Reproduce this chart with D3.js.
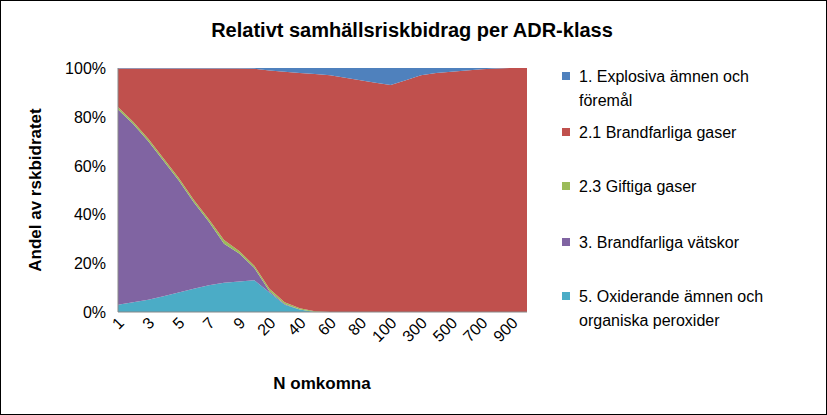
<!DOCTYPE html>
<html><head><meta charset="utf-8">
<script src="https://cdn.jsdelivr.net/npm/d3@7"></script>
<style>body{margin:0;background:#fff}svg{font-family:"Liberation Sans",Arial,sans-serif}</style>
</head><body><svg id="c" width="827" height="415"></svg>
<script>
const categories = [1,2,3,4,5,6,7,8,9,10,20,30,40,50,60,70,80,90,100,200,300,400,500,600,700,800,900,1000];
const s5 = [3,4,5,6.5,8,9.5,11,12,12.5,13,8,3,1,0,0,0,0,0,0,0,0,0,0,0,0,0,0,0];
const s3 = [80,73,65,55.5,46,35.5,26,16,11.5,5,0.5,0.3,0,0,0,0,0,0,0,0,0,0,0,0,0,0,0,0];
const s23 = [1,1,1,1,1,1,1,1.5,1,1,1,0.7,0.5,0.3,0,0,0,0,0,0,0,0,0,0,0,0,0,0];
const s1 = [0.2,0.2,0.2,0.2,0.2,0.2,0.2,0.2,0.2,0.3,1,1.5,2,2.5,3,4,5,6,7,5,3,2,1.5,1,0.5,0.2,0,0];
const names = ["1. Explosiva ämnen och\nföremål","2.1 Brandfarliga gaser","2.3 Giftiga gaser","3. Brandfarliga vätskor","5. Oxiderande ämnen och\norganiska peroxider"];
const colors = ["#4F81BD","#C0504D","#9BBB59","#8064A2","#4BACC6"];
const yTicks = [0,20,40,60,80,100];

const rows = categories.map((c,i)=>({c, s5:s5[i], s3:s3[i], s23:s23[i],
  s1:s1[i], s21:100-s5[i]-s3[i]-s23[i]-s1[i]}));
const keys = ["s5","s3","s23","s21","s1"];
const keyColor = {s1:colors[0],s21:colors[1],s23:colors[2],s3:colors[3],s5:colors[4]};
const stack = d3.stack().keys(keys)(rows);

const svg = d3.select("#c");
svg.append("rect").attr("x",0.5).attr("y",0.5).attr("width",826).attr("height",414).attr("fill","#fff").attr("stroke","#000");
const x = d3.scalePoint().domain(categories).range([118,527]);
const y = d3.scaleLinear().domain([0,100]).range([312,68]);

const area = d3.area().x(d=>x(d.data.c)).y0(d=>y(d[0])).y1(d=>y(d[1]));
svg.append("g").selectAll("path").data(stack).join("path")
  .attr("fill",d=>keyColor[d.key]).attr("d",area);

svg.append("line").attr("x1",118).attr("x2",118).attr("y1",68).attr("y2",312).attr("stroke","#888");
svg.append("line").attr("x1",118).attr("x2",527).attr("y1",312).attr("y2",312).attr("stroke","#888");

svg.append("g").selectAll("text").data(yTicks).join("text")
  .attr("x",106).attr("y",d=>y(d)+6).attr("text-anchor","end").attr("font-size",16).text(d=>d+"%");
svg.append("g").selectAll("text").data(categories.filter((d,i)=>i%2===0)).join("text")
  .attr("transform",d=>`translate(${x(d)+7},${324}) rotate(-45)`).attr("text-anchor","end")
  .attr("font-size",16).text(d=>d);

svg.append("text").attr("x",412).attr("y",37).attr("text-anchor","middle").attr("font-size",20).attr("font-weight","bold").text("Relativt samhällsriskbidrag per ADR-klass");
svg.append("text").attr("x",322).attr("y",389).attr("text-anchor","middle").attr("font-size",17).attr("font-weight","bold").text("N omkomna");
svg.append("text").attr("transform","translate(41,190) rotate(-90)").attr("text-anchor","middle").attr("font-size",17).attr("font-weight","bold").text("Andel av rskbidratet");

const ly = [77,133,187,243,297];
const lg = svg.append("g").selectAll("g").data(names).join("g").attr("transform",(d,i)=>`translate(562,${ly[i]})`);
lg.append("rect").attr("x",0).attr("y",-5).attr("width",8).attr("height",8).attr("fill",(d,i)=>colors[i]);
lg.append("text").attr("font-size",16).selectAll("tspan").data(d=>d.split("\n")).join("tspan")
  .attr("x",17).attr("y",(d,i)=>5+i*24).text(d=>d);
</script></body></html>
